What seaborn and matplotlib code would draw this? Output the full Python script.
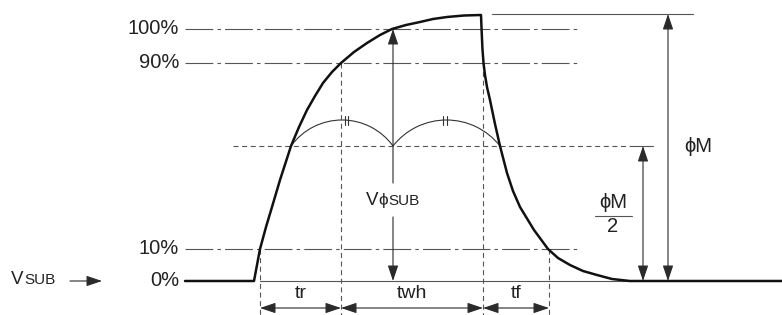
import numpy as np
import pandas as pd
import seaborn as sns
import matplotlib.pyplot as plt
from matplotlib.patches import Arc

# waveform (x = time axis, y = level, y grows downwards)
base_left_t = [185, 254]
base_left_y = [281, 281]
rise_t = [257, 260, 266, 272, 280, 291, 299, 307, 315, 323, 332, 341, 354, 367,
          380, 392, 406, 420, 433, 447, 464, 481]
rise_y = [265, 249, 227, 207, 180, 146, 127, 110, 96, 83, 72, 63, 52, 43,
          35, 29, 25, 22, 19, 17, 15.5, 15]
fall_t = [481.6, 482.4, 483.5, 485, 487, 490, 495, 500, 507, 513, 520, 534, 548,
          558, 570, 583, 597, 612, 630, 782]
fall_y = [30, 48, 63, 75, 87, 100, 124, 146, 173, 191, 207, 230, 249,
          258, 265, 271, 275, 279, 281, 281]

# reference levels
level_names = ["100%", "90%", "10%", "0%"]
level_y = [29, 63, 249, 281]
peak_y = 14
half_y = 146

# timing marks: 10% rise, 90% rise, 90% fall, 10% fall
mark_t = [260, 341, 483, 549]
mark_top = [249, 63, 63, 249]
timing_names = ["tr", "twh", "tf"]
# half level crossings and centre of the pulse
half_t = [291, 393, 500]

sns.set_theme(style="white")
plt.rcParams["font.family"] = ["Liberation Sans", "DejaVu Sans"]
plt.rcParams["lines.scale_dashes"] = False

TXT = "#222222"
THIN = "#555555"
dashdot = (0, (20, 3, 2.5, 3))
dashed = (0, (3.6, 2.6))

fig = plt.figure(figsize=(7.82, 3.15), dpi=100)
ax = fig.add_axes([0, 0, 1, 1])

# main waveform
wave = pd.DataFrame({
    "t": base_left_t + rise_t + fall_t,
    "v": base_left_y + rise_y + fall_y,
})
sns.lineplot(data=wave, x="t", y="v", sort=False, estimator=None,
             color="#111111", lw=1.8, ax=ax, zorder=4)

# level lines and labels
for name, y in zip(level_names, level_y):
    ax.text(179, y, name, ha="right", va="center", fontsize=14.5, color=TXT)
    if name != "0%":
        ax.plot([185, 577], [y, y], color=THIN, lw=0.8, linestyle=dashdot)
ax.plot([mark_t[0], fall_t[-2]], [level_y[-1]] * 2, color=THIN, lw=0.8)

# half level
ax.plot([233, 630], [half_y, half_y], color=THIN, lw=0.8, linestyle=dashed)
ax.plot([630, 653], [half_y, half_y], color=THIN, lw=0.8)
# peak extension line
ax.plot([492, 693], [peak_y, peak_y], color=THIN, lw=0.8)

# vertical dashed marks
for t, top in zip(mark_t, mark_top):
    ax.plot([t, t], [top, 315], color=THIN, lw=0.8, linestyle=dashed)


def arrow(x0, y0, x1, y1, style="<|-|>"):
    ax.annotate("", xy=(x1, y1), xytext=(x0, y0),
                arrowprops=dict(arrowstyle=style + ",head_length=0.95,head_width=0.32",
                                color="#2a2a2a", lw=0.8, shrinkA=0, shrinkB=0,
                                mutation_scale=10))


# timing dimension arrows
dim_y = 308
for i, name in enumerate(timing_names):
    t0, t1 = mark_t[i], mark_t[i + 1]
    arrow(t0, dim_y, t1, dim_y)
    ax.text((t0 + t1) / 2, 294, name, ha="center", va="center", fontsize=14, color=TXT)

# compass arcs between the half level crossings
for a, b in zip(half_t[:-1], half_t[1:]):
    half = (b - a) / 2
    sag = 26
    r = (half ** 2 + sag ** 2) / (2 * sag)
    cx, cy = (a + b) / 2, half_y + (r - sag)
    ang = np.degrees(np.arctan2(half_y - cy, half))
    ax.add_patch(Arc((cx, cy), 2 * r, 2 * r, theta1=180 - ang, theta2=360 + ang,
                     color="#333333", lw=0.8))
for t in [345, 348, 443, 447]:
    ax.plot([t, t], [116, 125], color="#333333", lw=0.8)

# V phi SUB arrow, broken for its label
arrow(half_t[1], 183, half_t[1], level_y[0], "-|>")
arrow(half_t[1], 217, half_t[1], level_y[-1], "-|>")
ax.text(366, 205, "V", ha="left", va="baseline", fontsize=13.5, color=TXT)
ax.text(378.5, 205, "\u03d5", ha="left", va="baseline", fontsize=12.5, color=TXT)
ax.text(388, 205, "SUB", ha="left", va="baseline", fontsize=11, color=TXT)

# phi M and phi M / 2
arrow(668, peak_y, 668, level_y[-1])
arrow(643, half_y, 643, level_y[-1])
ax.text(684, 147, "\u03d5M", ha="left", va="center", fontsize=14.5, color=TXT)
ax.text(613, 202, "\u03d5M", ha="center", va="center", fontsize=14.5, color=TXT)
ax.plot([595, 632], [216, 216], color=THIN, lw=0.8)
ax.text(613, 226, "2", ha="center", va="center", fontsize=14.5, color=TXT)

# V SUB label with arrow
ax.text(11, 284, "V", ha="left", va="baseline", fontsize=13.5, color=TXT)
ax.text(24, 284, "SUB", ha="left", va="baseline", fontsize=11, color=TXT)
arrow(70, 281, 102, 281, "-|>")

ax.set_xlim(0, 782)
ax.set_ylim(315, 0)
ax.axis("off")

fig.savefig("out.png", dpi=100)
